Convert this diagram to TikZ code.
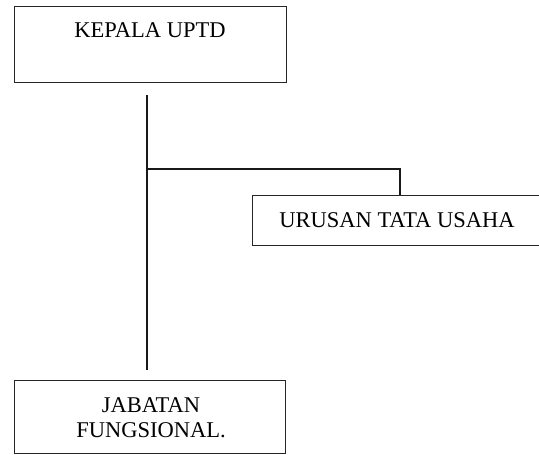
\documentclass[tikz,border=0pt]{standalone}
\usepackage{fontspec}
\setmainfont{Liberation Serif}
\begin{document}
\begin{tikzpicture}[x=1pt,y=-1pt,
  boxnode/.style={draw=black!85, line width=1.3pt, inner sep=0pt},
  label/.style={inner sep=0pt, align=center, font=\fontsize{22.5}{25}\selectfont},
  link/.style={draw=black!90, line width=1.6pt}]
\clip (0,0) rectangle (539,455);
\useasboundingbox (0,0) rectangle (539,455);
% boxes
\node[boxnode, minimum width=272pt, minimum height=76pt, anchor=north west] (kepala) at (14,6) {};
\node[label] at (150,30) (kepalatxt) {KEPALA UPTD};
\node[boxnode, minimum width=292pt, minimum height=50pt, anchor=north west] (urusan) at (252,195) {};
\node[label] at (397,220) (urusantxt) {URUSAN TATA USAHA};
\node[boxnode, minimum width=271pt, minimum height=73pt, anchor=north west] (jabatan) at (14,380) {};
\node[label] at (151,418) (jabatantxt) {JABATAN\\FUNGSIONAL.};
% connector points
\coordinate (vtop) at (147,95);
\coordinate (vbot) at (147,370);
\coordinate (branch) at (147,169);
\coordinate (corner) at (400,169);
% connectors
\draw[link] (vtop) -- (vbot);
\draw[link] (branch) -- (corner) -- (corner |- urusan.north);
\end{tikzpicture}
\end{document}
